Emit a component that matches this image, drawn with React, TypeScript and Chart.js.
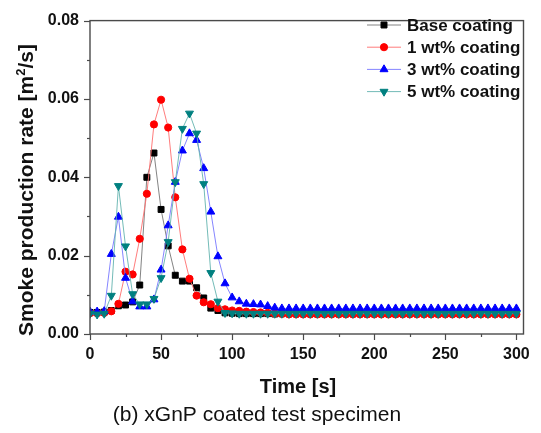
import React, { useEffect, useRef } from 'react';
import { Chart, registerables } from 'chart.js';

Chart.register(...registerables);

const times = [
  0, 5, 10, 15, 20, 25, 30, 35, 40, 45, 50, 55, 60, 65, 70, 75, 80, 85, 90, 95,
  100, 105, 110, 115, 120, 125, 130, 135, 140, 145, 150, 155, 160, 165, 170, 175, 180, 185, 190, 195,
  200, 205, 210, 215, 220, 225, 230, 235, 240, 245, 250, 255, 260, 265, 270, 275, 280, 285, 290, 295,
  300,
];

const baseCoating = [
  0.0055, 0.0055, 0.0056, 0.0060, 0.0072, 0.0074, 0.0082, 0.0125, 0.0400, 0.0462,
  0.0318, 0.0225, 0.0150, 0.0135, 0.0135, 0.0118, 0.0092, 0.0066, 0.0060, 0.0054,
  0.0053, 0.0052, 0.0052, 0.0052, 0.0052, 0.0052, 0.0051, 0.0052, 0.0052, 0.0052,
  0.0052, 0.0052, 0.0051, 0.0052, 0.0052, 0.0052, 0.0052, 0.0052, 0.0052, 0.0051,
  0.0052, 0.0052, 0.0052, 0.0051, 0.0052, 0.0052, 0.0052, 0.0052, 0.0052, 0.0052,
  0.0052, 0.0052, 0.0052, 0.0052, 0.0052, 0.0052, 0.0052, 0.0052, 0.0052, 0.0052,
  0.0052,
];

const wt1Coating = [
  0.0053, 0.0053, 0.0054, 0.0058, 0.0077, 0.0159, 0.0152, 0.0243, 0.0358, 0.0535,
  0.0598, 0.0527, 0.0349, 0.0216, 0.0141, 0.0098, 0.0081, 0.0076, 0.0066, 0.0063,
  0.0060, 0.0059, 0.0057, 0.0056, 0.0055, 0.0054, 0.0052, 0.0051, 0.0050, 0.0050,
  0.0050, 0.0050, 0.0050, 0.0050, 0.0050, 0.0050, 0.0050, 0.0050, 0.0050, 0.0050,
  0.0050, 0.0050, 0.0050, 0.0050, 0.0050, 0.0050, 0.0050, 0.0050, 0.0050, 0.0050,
  0.0050, 0.0050, 0.0050, 0.0050, 0.0050, 0.0050, 0.0050, 0.0050, 0.0050, 0.0050,
  0.0050,
];

const wt3Coating = [
  0.0057, 0.0057, 0.0058, 0.0204, 0.0299, 0.0143, 0.0083, 0.0070, 0.0070, 0.0088,
  0.0164, 0.0277, 0.0388, 0.0468, 0.0512, 0.0495, 0.0423, 0.0312, 0.0198, 0.0129,
  0.0093, 0.0083, 0.0077, 0.0076, 0.0075, 0.0071, 0.0067, 0.0065, 0.0065, 0.0065,
  0.0065, 0.0065, 0.0065, 0.0065, 0.0065, 0.0065, 0.0065, 0.0065, 0.0065, 0.0065,
  0.0065, 0.0065, 0.0065, 0.0065, 0.0065, 0.0065, 0.0065, 0.0065, 0.0065, 0.0065,
  0.0065, 0.0065, 0.0065, 0.0065, 0.0065, 0.0065, 0.0065, 0.0065, 0.0065, 0.0065,
  0.0065,
];

const wt5Coating = [
  0.0052, 0.0050, 0.0052, 0.0098, 0.0378, 0.0224, 0.0102, 0.0076, 0.0076, 0.0090,
  0.0143, 0.0235, 0.0388, 0.0524, 0.0563, 0.0512, 0.0383, 0.0156, 0.0083, 0.0054,
  0.0053, 0.0052, 0.0052, 0.0052, 0.0052, 0.0052, 0.0052, 0.0052, 0.0052, 0.0052,
  0.0052, 0.0052, 0.0052, 0.0052, 0.0052, 0.0052, 0.0052, 0.0052, 0.0052, 0.0052,
  0.0052, 0.0052, 0.0052, 0.0052, 0.0052, 0.0052, 0.0052, 0.0052, 0.0052, 0.0052,
  0.0052, 0.0052, 0.0052, 0.0052, 0.0052, 0.0052, 0.0052, 0.0052, 0.0052, 0.0052,
  0.0052,
];

const seriesLabels = ['Base coating', '1 wt% coating', '3 wt% coating', '5 wt% coating'];
const xTickValues = [0, 50, 100, 150, 200, 250, 300];
const yTickValues = [0, 0.02, 0.04, 0.06, 0.08];

const FONT = '"Liberation Sans", Arial, Helvetica, sans-serif';

const styles = [
  { marker: '#000000', line: 'rgba(90,90,90,0.75)', shape: 'rect', radius: 4.2, rotation: 0 },
  { marker: '#ff0000', line: 'rgba(255,110,110,0.9)', shape: 'circle', radius: 3.6, rotation: 0 },
  { marker: '#0000ff', line: 'rgba(120,120,255,0.9)', shape: 'triangle', radius: 4.6, rotation: 0 },
  { marker: '#008080', line: 'rgba(100,180,175,0.9)', shape: 'triangle', radius: 4.6, rotation: 180 },
];

function drawMarker(ctx: CanvasRenderingContext2D, s: any, x: number, y: number) {
  ctx.save();
  ctx.fillStyle = s.marker;
  ctx.strokeStyle = s.marker;
  ctx.lineWidth = 1;
  ctx.beginPath();
  const r = s.radius;
  if (s.shape === 'rect') {
    const h = Math.SQRT1_2 * r;
    ctx.rect(x - h, y - h, 2 * h, 2 * h);
  } else if (s.shape === 'circle') {
    ctx.arc(x, y, r, 0, Math.PI * 2);
  } else {
    let rad = (s.rotation * Math.PI) / 180;
    const t = (2 * Math.PI) / 3;
    ctx.moveTo(x + Math.sin(rad) * r, y - Math.cos(rad) * r);
    rad += t;
    ctx.lineTo(x + Math.sin(rad) * r, y - Math.cos(rad) * r);
    rad += t;
    ctx.lineTo(x + Math.sin(rad) * r, y - Math.cos(rad) * r);
    ctx.closePath();
  }
  ctx.fill();
  ctx.stroke();
  ctx.restore();
}

const decorPlugin = {
  id: 'decor',
  afterDraw(chart: any) {
    const { ctx, chartArea, scales } = chart;
    const { left, right, top, bottom } = chartArea;
    ctx.save();
    // frame
    ctx.strokeStyle = '#4a4a4a';
    ctx.lineWidth = 1.4;
    ctx.strokeRect(left, top, right - left, bottom - top);
    // x ticks
    ctx.lineWidth = 1.2;
    for (let v = 0; v <= 300; v += 25) {
      const px = Math.round(scales.x.getPixelForValue(v)) + 0.5;
      const len = v % 50 === 0 ? 6 : 3;
      ctx.beginPath();
      ctx.moveTo(px, bottom);
      ctx.lineTo(px, bottom + len);
      ctx.stroke();
    }
    // y ticks
    for (let i = 0; i <= 8; i++) {
      const v = i * 0.01;
      const py = Math.round(scales.y.getPixelForValue(v)) + 0.5;
      const len = i % 2 === 0 ? 6 : 3;
      ctx.beginPath();
      ctx.moveTo(left, py);
      ctx.lineTo(left - len, py);
      ctx.stroke();
    }
    // legend
    const lx0 = 367;
    const lx1 = 401;
    const ly0 = 25;
    const dy = 22.2;
    styles.forEach((s, i) => {
      const y = ly0 + i * dy;
      ctx.strokeStyle = s.line;
      ctx.lineWidth = 1;
      ctx.beginPath();
      ctx.moveTo(lx0, y);
      ctx.lineTo(lx1, y);
      ctx.stroke();
      drawMarker(ctx, s, (lx0 + lx1) / 2, y);
      ctx.fillStyle = '#111';
      ctx.font = `bold 17px ${FONT}`;
      ctx.textAlign = 'left';
      ctx.textBaseline = 'middle';
      ctx.fillText(seriesLabels[i], 407, y + 1);
    });
    // x title
    ctx.fillStyle = '#111';
    ctx.font = `bold 20px ${FONT}`;
    ctx.textAlign = 'center';
    ctx.textBaseline = 'alphabetic';
    ctx.fillText('Time [s]', 298, 393);
    // caption
    ctx.font = `21px ${FONT}`;
    ctx.fillText('(b) xGnP coated test specimen', 257, 421);
    // y title with superscript
    ctx.save();
    ctx.translate(33, 190);
    ctx.rotate(-Math.PI / 2);
    const p1 = 'Smoke production rate [m';
    const p2 = '2';
    const p3 = '/s]';
    const mainFont = `bold 21px ${FONT}`;
    const supFont = `bold 13px ${FONT}`;
    ctx.font = mainFont;
    const w1 = ctx.measureText(p1).width;
    const w3 = ctx.measureText(p3).width;
    ctx.font = supFont;
    const w2 = ctx.measureText(p2).width;
    const total = w1 + w2 + w3;
    let x = -total / 2;
    ctx.textAlign = 'left';
    ctx.textBaseline = 'alphabetic';
    ctx.font = mainFont;
    ctx.fillText(p1, x, 0);
    x += w1;
    ctx.font = supFont;
    ctx.fillText(p2, x, -8);
    x += w2;
    ctx.font = mainFont;
    ctx.fillText(p3, x, 0);
    ctx.restore();
    ctx.restore();
  },
};

export default function App() {
  const ref = useRef<HTMLCanvasElement | null>(null);
  useEffect(() => {
    if (!ref.current) return;
    const seriesValues = [baseCoating, wt1Coating, wt3Coating, wt5Coating];
    const datasets = seriesValues.map((vals, i) => {
      const s = styles[i];
      return {
        label: seriesLabels[i],
        data: times.map((t, k) => ({ x: t, y: vals[k] })),
        borderColor: s.line,
        borderWidth: 1,
        backgroundColor: s.marker,
        pointBackgroundColor: s.marker,
        pointBorderColor: s.marker,
        pointBorderWidth: 1,
        pointStyle: s.shape,
        pointRotation: s.rotation,
        pointRadius: s.radius,
        tension: 0,
        fill: false,
        order: 3 - i,
      };
    });
    const chart = new Chart(ref.current, {
      type: 'line',
      data: { datasets },
      options: {
        animation: false,
        responsive: false,
        maintainAspectRatio: false,
        layout: { padding: { top: 15, right: 16, left: 0, bottom: 0 } },
        plugins: {
          legend: { display: false },
          tooltip: { enabled: false },
          title: { display: false },
        },
        scales: {
          x: {
            type: 'linear',
            min: 0,
            max: 305,
            afterFit: (scale: any) => {
              scale.height = 99;
            },
            afterBuildTicks: (scale: any) => {
              scale.ticks = xTickValues.map((v) => ({ value: v }));
            },
            grid: { display: false, drawTicks: false },
            border: { display: false },
            ticks: {
              padding: 11,
              color: '#111',
              font: { family: FONT, size: 16, weight: 'bold' },
              maxRotation: 0,
              callback: (v: any) => String(v),
            },
          },
          y: {
            type: 'linear',
            min: 0,
            max: 0.08,
            afterFit: (scale: any) => {
              scale.width = 90;
            },
            afterBuildTicks: (scale: any) => {
              scale.ticks = yTickValues.map((v) => ({ value: v }));
            },
            grid: { display: false, drawTicks: false },
            border: { display: false },
            ticks: {
              padding: 11,
              color: '#111',
              font: { family: FONT, size: 16, weight: 'bold' },
              callback: (v: any) => Number(v).toFixed(2),
            },
          },
        },
      },
      plugins: [decorPlugin],
    } as any);
    return () => chart.destroy();
  }, []);
  return (
    <div style={{ position: 'absolute', left: 0, top: 0, width: 541, height: 433, background: '#fff' }}>
      <canvas ref={ref} width={541} height={433} style={{ display: 'block' }} />
    </div>
  );
}
